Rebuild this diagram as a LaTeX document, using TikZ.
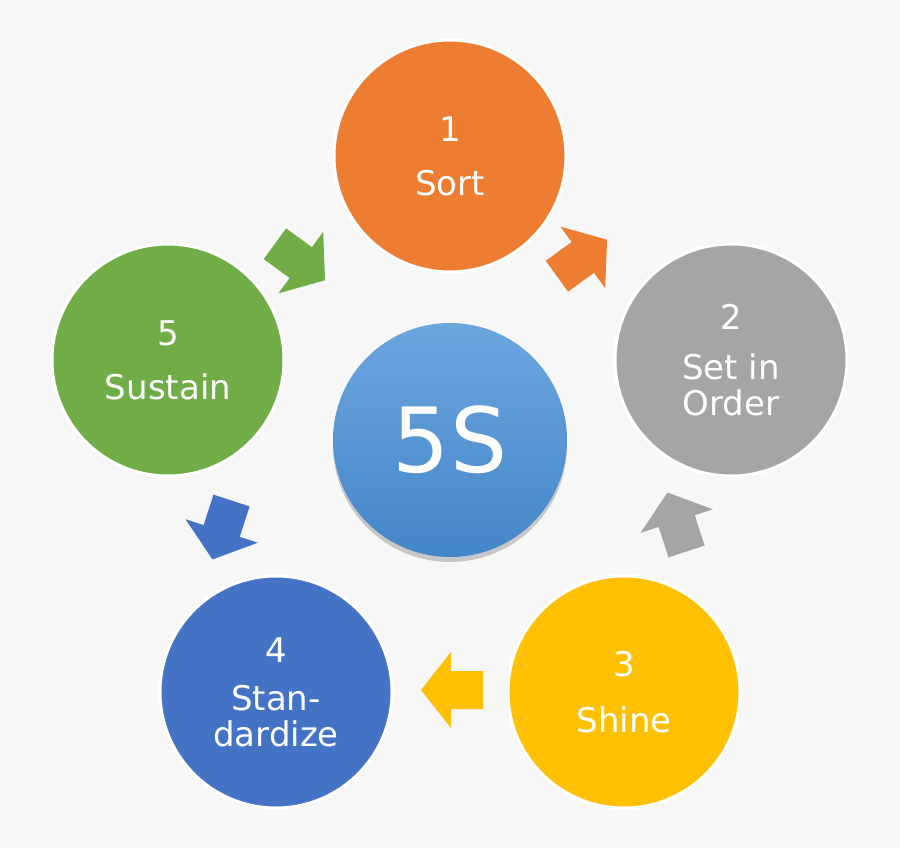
\documentclass[tikz,border=0pt]{standalone}
\usepackage{fontspec}
\setmainfont{DejaVu Sans}
\usetikzlibrary{shadows}
\definecolor{bgc}{HTML}{F7F7F7}
\definecolor{sortc}{HTML}{ED7D31}
\definecolor{orderc}{HTML}{A5A5A5}
\definecolor{shinec}{HTML}{FFC000}
\definecolor{stdc}{HTML}{4472C4}
\definecolor{sustc}{HTML}{70AD47}
\definecolor{coretop}{HTML}{6CA6DF}
\definecolor{corebot}{HTML}{4386C8}
\tikzset{
    stage/.style={circle,draw=white,line width=3pt,minimum size=232pt,inner sep=0pt,
        text=white,align=center,font=\fontsize{34}{42}\selectfont},
    core/.style={circle,minimum size=234pt,inner sep=0pt,text=white,
        top color=coretop,bottom color=corebot,
        drop shadow={shadow xshift=0pt,shadow yshift=-5pt,opacity=0.4},
        font=\fontsize{90}{90}\selectfont}
}
\newcommand\blockarrow[3]{%
    \fill[#3,shift={#1},rotate=#2] (-31,-19) -- (1,-19) -- (1,-38) -- (31,0) -- (1,38) -- (1,19) -- (-31,19) -- cycle;}
\begin{document}
\begin{tikzpicture}[x=1pt,y=-1pt]
    \fill[bgc] (0,0) rectangle (900,848);
    \useasboundingbox (0,0) rectangle (900,848);
    % centre
    \node[core] (five) at (450,440) {5S};
    % the five steps
    \node[stage,fill=sortc] (sort) at (450,156) {1\\[12pt]Sort};
    \node[stage,fill=orderc] (order) at (731,360) {2\\[8pt]Set in\\[-6pt]Order};
    \node[stage,fill=shinec] (shine) at (624,692) {3\\[14pt]Shine};
    \node[stage,fill=stdc] (std) at (276,692) {4\\[6pt]Stan-\\[-6pt]dardize};
    \node[stage,fill=sustc] (sust) at (168,360) {5\\[12pt]Sustain};
    % arrows between steps
    \blockarrow{(582,258)}{36}{sortc}
    \blockarrow{(677,522)}{108}{orderc}
    \blockarrow{(452,690)}{180}{shinec}
    \blockarrow{(222,530)}{-108}{stdc}
    \blockarrow{(300,262)}{-36}{sustc}
\end{tikzpicture}
\end{document}
